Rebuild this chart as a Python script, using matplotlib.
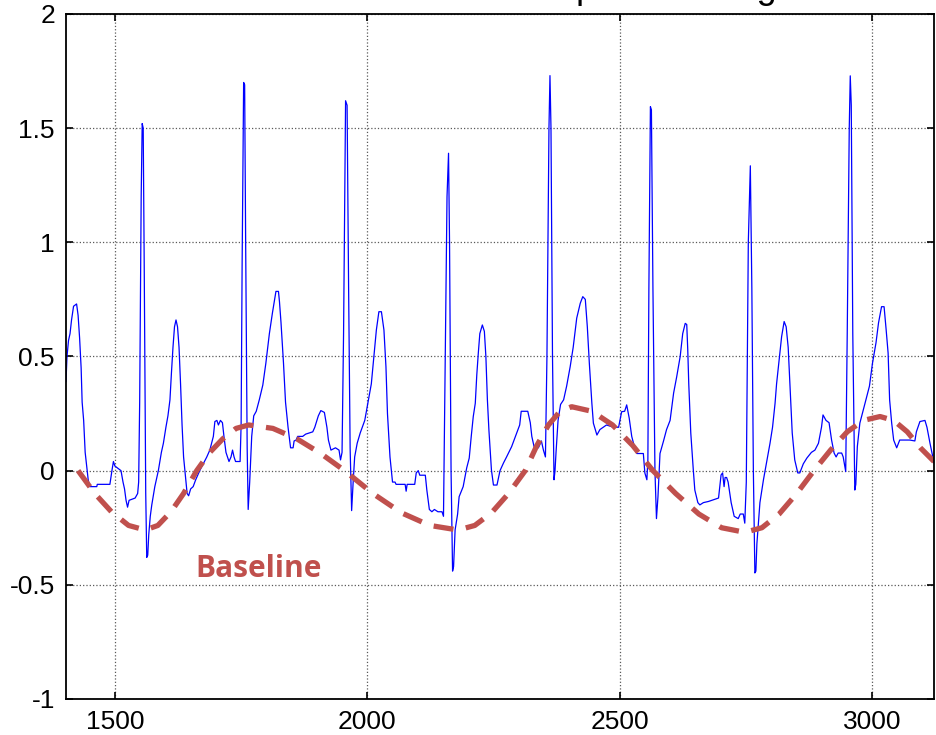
import matplotlib
matplotlib.use("Agg")
import matplotlib.pyplot as plt
import numpy as np

plt.rcParams['font.family'] = ['Liberation Sans', 'DejaVu Sans']
plt.rcParams['axes.unicode_minus'] = False

# ECG samples (sample index, amplitude), one segment per heartbeat
beat1_x = [1403, 1405, 1408, 1411, 1414, 1418, 1424, 1427, 1430, 1433, 1435, 1438, 1441, 1444, 1447, 1450,
           1464, 1465, 1490, 1494, 1497, 1500, 1512, 1516, 1519, 1522, 1525, 1528, 1540, 1545, 1547,
           1549, 1552, 1554, 1556, 1558, 1561, 1563, 1565, 1567, 1570, 1573, 1576, 1579, 1582, 1586, 1589,
           1592, 1596, 1601, 1605, 1609, 1612, 1615, 1618, 1621, 1624, 1627, 1630, 1633, 1636, 1640, 1643,
           1646, 1650, 1655, 1660, 1668, 1675, 1682, 1688, 1695, 1698, 1702, 1705, 1709, 1713, 1716, 1720,
           1726, 1730, 1733, 1736, 1739, 1748, 1750]
beat1_y = [0.39, 0.50, 0.57, 0.60, 0.66, 0.72, 0.73, 0.68, 0.58, 0.45, 0.30, 0.22, 0.08, 0.02, -0.04, -0.07,
           -0.07, -0.06, -0.06, 0.0, 0.04, 0.02, 0.0, -0.05, -0.08, -0.13, -0.16, -0.13, -0.12, -0.10, -0.05,
           0.3, 1.2, 1.52, 1.50, 0.9, -0.1, -0.38, -0.37, -0.28, -0.20, -0.15, -0.11, -0.07, -0.04, 0.0, 0.04,
           0.08, 0.12, 0.19, 0.24, 0.31, 0.43, 0.54, 0.63, 0.66, 0.63, 0.54, 0.38, 0.20, 0.06, -0.03, -0.10,
           -0.11, -0.08, -0.07, -0.04, 0.0, 0.03, 0.06, 0.09, 0.15, 0.215, 0.22, 0.20, 0.22, 0.21, 0.15, 0.08,
           0.04, 0.06, 0.09, 0.06, 0.04, 0.04, 0.2]

beat2_x = [1752, 1755, 1757, 1759, 1762, 1764, 1767, 1771, 1775, 1780, 1786, 1793, 1799, 1806, 1812, 1817,
           1819, 1824, 1826, 1829, 1834, 1838, 1843, 1848, 1853, 1855, 1859, 1862, 1872, 1878, 1892, 1896,
           1903, 1908, 1915, 1920, 1923, 1928, 1937, 1944, 1947, 1950]
beat2_y = [0.9, 1.70, 1.69, 1.0, 0.1, -0.17, -0.05, 0.15, 0.24, 0.26, 0.31, 0.375, 0.47, 0.60, 0.69, 0.76,
           0.785, 0.785, 0.74, 0.65, 0.47, 0.30, 0.19, 0.10, 0.10, 0.13, 0.134, 0.15, 0.15, 0.16, 0.17, 0.19,
           0.24, 0.263, 0.255, 0.19, 0.134, 0.09, 0.10, 0.09, 0.047, 0.08]

beat3_x = [1953, 1957, 1960, 1963, 1966, 1969, 1972, 1975, 1980, 1986, 1990, 1995, 2001, 2008, 2013, 2018,
           2023, 2028, 2033, 2037, 2040, 2045, 2050, 2055, 2057, 2068, 2075, 2077, 2079, 2094, 2097, 2101,
           2104, 2115, 2118, 2123, 2128, 2133, 2140, 2148, 2151]
beat3_y = [0.6, 1.62, 1.60, 0.8, 0.1, -0.175, -0.05, 0.06, 0.12, 0.165, 0.19, 0.22, 0.295, 0.38, 0.50, 0.616,
           0.696, 0.696, 0.616, 0.455, 0.25, 0.06, -0.05, -0.05, -0.06, -0.06, -0.06, -0.09, -0.06, -0.06, -0.01, 0.0,
           -0.02, -0.02, -0.085, -0.17, -0.18, -0.17, -0.18, -0.18, -0.20]

beat4_x = [2154, 2158, 2161, 2163, 2166, 2169, 2171, 2174, 2179, 2182, 2190, 2197, 2202, 2206, 2210, 2214,
           2217, 2220, 2223, 2228, 2232, 2235, 2238, 2241, 2246, 2250, 2257, 2263, 2270, 2276, 2286, 2296,
           2302, 2305, 2318, 2323, 2326, 2331, 2339, 2345, 2349, 2353]
beat4_y = [0.4, 1.2, 1.39, 1.0, 0.0, -0.44, -0.42, -0.26, -0.19, -0.114, -0.07, 0.012, 0.055, 0.15, 0.237, 0.295,
           0.42, 0.515, 0.60, 0.638, 0.61, 0.50, 0.31, 0.178, 0.003, -0.063, -0.063, 0.0, 0.034, 0.06, 0.105, 0.165,
           0.20, 0.26, 0.26, 0.21, 0.15, 0.10, 0.10, 0.13, 0.09, 0.06]

beat5_x = [2356, 2360, 2362, 2364, 2367, 2370, 2372, 2374, 2378, 2383, 2389, 2395, 2402, 2408, 2415, 2422,
           2427, 2432, 2436, 2440, 2445, 2448, 2455, 2461, 2474, 2488, 2498, 2504, 2510, 2514, 2519, 2524,
           2531, 2534, 2547, 2550, 2554, 2556]
beat5_y = [0.5, 1.5, 1.73, 1.5, 0.5, -0.04, 0.0, 0.08, 0.22, 0.29, 0.31, 0.37, 0.455, 0.54, 0.668, 0.733,
           0.762, 0.75, 0.63, 0.47, 0.295, 0.208, 0.156, 0.18, 0.20, 0.19, 0.19, 0.258, 0.26, 0.288, 0.23, 0.15,
           0.09, 0.075, 0.075, -0.01, -0.04, 0.05]

beat6_x = [2558, 2561, 2563, 2566, 2570, 2573, 2576, 2580, 2587, 2593, 2600, 2607, 2613, 2620, 2625, 2630,
           2633, 2635, 2637, 2641, 2646, 2649, 2655, 2659, 2666, 2676, 2696, 2701, 2704, 2707, 2709, 2712,
           2715, 2721, 2727, 2735, 2739, 2745, 2748, 2751]
beat6_y = [0.8, 1.594, 1.58, 0.8, 0.0, -0.21, -0.114, 0.075, 0.13, 0.18, 0.22, 0.34, 0.41, 0.50, 0.60, 0.645,
           0.64, 0.53, 0.38, 0.165, 0.003, -0.085, -0.14, -0.15, -0.14, -0.135, -0.12, -0.019, -0.01, -0.07, -0.03, -0.03,
           -0.05, -0.14, -0.20, -0.21, -0.19, -0.19, -0.23, -0.05]

beat7_x = [2755, 2759, 2762, 2765, 2768, 2770, 2772, 2775, 2778, 2785, 2791, 2798, 2803, 2808, 2811, 2816,
           2821, 2826, 2830, 2834, 2838, 2842, 2847, 2853, 2857, 2864, 2871, 2880, 2887, 2894, 2900, 2903,
           2909, 2915, 2920, 2925, 2929, 2933, 2940, 2943, 2948]
beat7_y = [1.0, 1.335, 0.8, 0.0, -0.448, -0.44, -0.32, -0.23, -0.14, -0.04, 0.033, 0.12, 0.19, 0.295, 0.38, 0.485,
           0.587, 0.653, 0.63, 0.54, 0.353, 0.165, 0.047, -0.01, -0.01, 0.03, 0.055, 0.08, 0.09, 0.12, 0.19, 0.244,
           0.22, 0.21, 0.134, 0.077, 0.06, 0.077, 0.077, 0.06, -0.004]

beat8_x = [2951, 2955, 2957, 2959, 2962, 2966, 2968, 2971, 2976, 2981, 2988, 2995, 3001, 3008, 3013, 3019,
           3024, 3028, 3032, 3035, 3039, 3043, 3049, 3055, 3075, 3085, 3088, 3095, 3105, 3109, 3115, 3123]
beat8_y = [0.6, 1.5, 1.729, 1.6, 0.6, -0.085, -0.06, 0.105, 0.208, 0.25, 0.31, 0.37, 0.47, 0.56, 0.647, 0.718,
           0.718, 0.62, 0.515, 0.31, 0.21, 0.134, 0.10, 0.134, 0.134, 0.13, 0.17, 0.215, 0.22, 0.19, 0.12, 0.034]

# baseline wander
base_x = [1427, 1460, 1493, 1527, 1560, 1585, 1611, 1636, 1662, 1688, 1714, 1740, 1765, 1813, 1860, 1908,
          1955, 2011, 2068, 2124, 2180, 2213, 2246, 2280, 2313, 2336, 2359, 2382, 2405, 2445, 2486, 2526,
          2566, 2611, 2657, 2702, 2748, 2782, 2816, 2851, 2885, 2918, 2951, 2983, 3016, 3043, 3070, 3096, 3123]
base_y = [0.0, -0.10, -0.18, -0.24, -0.26, -0.24, -0.18, -0.10, 0.0, 0.08, 0.14, 0.185, 0.20, 0.185, 0.14, 0.075,
          0.0, -0.10, -0.185, -0.24, -0.26, -0.24, -0.185, -0.10, 0.0, 0.11, 0.20, 0.26, 0.28, 0.26, 0.20, 0.11,
          0.0, -0.10, -0.19, -0.25, -0.27, -0.25, -0.19, -0.10, 0.0, 0.09, 0.17, 0.22, 0.237, 0.22, 0.17, 0.10, 0.04]

x_ticks = [1500, 2000, 2500, 3000]
y_ticks = [-1, -0.5, 0, 0.5, 1, 1.5, 2]
y_labels = ['-1', '-0.5', '0', '0.5', '1', '1.5', '2']

ecg_x = np.concatenate([beat1_x, beat2_x, beat3_x, beat4_x, beat5_x, beat6_x, beat7_x, beat8_x])
ecg_y = np.concatenate([beat1_y, beat2_y, beat3_y, beat4_y, beat5_y, beat6_y, beat7_y, beat8_y])

fig = plt.figure(figsize=(9.36, 7.35), dpi=100)
ax = fig.add_axes([0.0705, 0.049, 0.9274, 0.932])

ax.plot(ecg_x, ecg_y, color='#0000ff', lw=0.9)
ax.plot(base_x, base_y, color='#c0504d', lw=3.8, linestyle=(0, (3.8, 2.4)), dash_capstyle='butt')

ax.text(1660, -0.43, 'Baseline', color='#c0504d', fontsize=21.5, fontweight='bold',
        family=['Open Sans', 'DejaVu Sans'], va='center', ha='left')

ax.set_xlim(1403, 3123)
ax.set_ylim(-1, 2)
ax.set_xticks(x_ticks)
ax.set_xticklabels([str(t) for t in x_ticks])
ax.set_yticks(y_ticks)
ax.set_yticklabels(y_labels)
ax.tick_params(direction='in', length=5, width=1.2, labelsize=19, top=True, right=True, pad=8)
ax.grid(True, linestyle=':', color='0.35', lw=0.9)
for s in ax.spines.values():
    s.set_linewidth(1.3)

# title sits mostly above the visible area
fig.text(0.583, 1.0 + 2.5 / 735, 'Input ECG Signal', fontsize=26, ha='left', va='baseline')

fig.savefig('out.png', dpi=100)
